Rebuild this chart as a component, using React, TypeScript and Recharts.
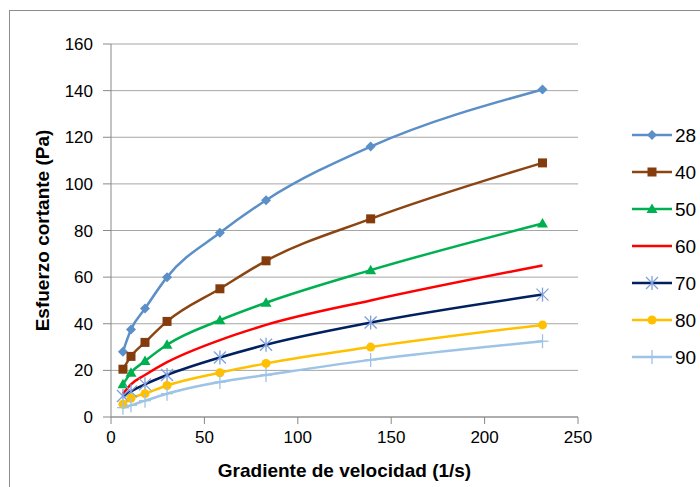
import { LineChart, Line, XAxis, YAxis, CartesianGrid } from "recharts";

// shear rate (1/s)
const gradiente = [6.4, 10.7, 18.2, 30, 58.3, 83, 139, 231];

// shear stress (Pa) per temperature
const s28 = [28, 37.5, 46.5, 60, 79, 93, 116, 140.5];
const s40 = [20.5, 26, 32, 41, 55, 67, 85, 109];
const s50 = [14, 19, 24, 31, 41.5, 49, 63, 83];
const s60 = [10, 14, 18, 23.5, 33, 39.5, 50, 65];
const s70 = [9, 11, 14, 18, 25.5, 31, 40.5, 52.5];
const s80 = [5.5, 8, 10, 13.5, 19, 23, 30, 39.5];
const s90 = [4, 5, 7, 10, 15, 18, 24.5, 32.5];

const xTicks = [0, 50, 100, 150, 200, 250];
const yTicks = [0, 20, 40, 60, 80, 100, 120, 140, 160];

const data = gradiente.map((g, i) => ({
  g,
  t28: s28[i],
  t40: s40[i],
  t50: s50[i],
  t60: s60[i],
  t70: s70[i],
  t80: s80[i],
  t90: s90[i],
}));

const FONT = "'Liberation Sans', Arial, sans-serif";

type Mk = "diamond" | "square" | "triangle" | "none" | "star" | "circle" | "plus";

const series: { key: string; name: string; color: string; marker: Mk; markColor: string }[] = [
  { key: "t28", name: "28", color: "#5B8FC7", marker: "diamond", markColor: "#5B8FC7" },
  { key: "t40", name: "40", color: "#8B4513", marker: "square", markColor: "#843C0C" },
  { key: "t50", name: "50", color: "#00B050", marker: "triangle", markColor: "#00B050" },
  { key: "t60", name: "60", color: "#FF0000", marker: "none", markColor: "#FF0000" },
  { key: "t70", name: "70", color: "#002060", marker: "star", markColor: "#7F9FDB" },
  { key: "t80", name: "80", color: "#FFC000", marker: "circle", markColor: "#FFC000" },
  { key: "t90", name: "90", color: "#9DC3E6", marker: "plus", markColor: "#9DC3E6" },
];

const marker = (kind: Mk, c: string, cx: number, cy: number, key?: string) => {
  switch (kind) {
    case "diamond":
      return <path key={key} d={`M${cx},${cy - 5}L${cx + 5},${cy}L${cx},${cy + 5}L${cx - 5},${cy}Z`} fill={c} />;
    case "square":
      return <rect key={key} x={cx - 4.5} y={cy - 4.5} width={9} height={9} fill={c} />;
    case "triangle":
      return <path key={key} d={`M${cx},${cy - 5.5}L${cx + 5.5},${cy + 4}L${cx - 5.5},${cy + 4}Z`} fill={c} />;
    case "star":
      return (
        <g key={key} stroke={c} strokeWidth={1.3}>
          <line x1={cx - 6} y1={cy - 6} x2={cx + 6} y2={cy + 6} />
          <line x1={cx - 6} y1={cy + 6} x2={cx + 6} y2={cy - 6} />
          <line x1={cx} y1={cy - 7} x2={cx} y2={cy + 7} />
        </g>
      );
    case "circle":
      return <circle key={key} cx={cx} cy={cy} r={4.5} fill={c} />;
    case "plus":
      return (
        <g key={key} stroke={c} strokeWidth={1.3}>
          <line x1={cx - 6} y1={cy} x2={cx + 6} y2={cy} />
          <line x1={cx} y1={cy - 7} x2={cx} y2={cy + 7} />
        </g>
      );
    default:
      return <g key={key} />;
  }
};

const LegendBox = () => (
  <svg width={70} height={260} style={{ position: "absolute", left: 630, top: 125 }}>
    {series.map((s, i) => {
      const y = 10 + i * 37;
      return (
        <g key={s.key}>
          <line x1={2} y1={y} x2={42} y2={y} stroke={s.color} strokeWidth={2.5} />
          {marker(s.marker, s.markColor, 22, y)}
          <text x={45} y={y + 7} fontSize={19} fontFamily={FONT} fill="#000">
            {s.name}
          </text>
        </g>
      );
    })}
  </svg>
);

const App = () => {
  return (
    <div style={{ position: "absolute", left: 0, top: 0, width: 700, height: 487, background: "#fff", overflow: "hidden" }}>
      <div
        style={{ position: "absolute", left: 9, top: 10, width: 720, height: 500, border: "1px solid #8c8c8c" }}
      />
      <LineChart
        width={700}
        height={487}
        data={data}
        margin={{ top: 44, right: 122, bottom: 0, left: 0 }}
        style={{ fontFamily: FONT }}
      >
        <CartesianGrid vertical={false} stroke="#A6A6A6" />
        <XAxis
          dataKey="g"
          type="number"
          domain={[0, 250]}
          ticks={xTicks}
          height={70}
          tickSize={7}
          tickMargin={7}
          stroke="#888"
          tick={{ fill: "#000", fontSize: 17, fontFamily: FONT }}
          label={{
            value: "Gradiente de velocidad (1/s)",
            position: "insideBottom",
            offset: 10,
            fill: "#000",
            fontSize: 19,
            fontWeight: "bold",
            fontFamily: FONT,
          }}
        />
        <YAxis
          type="number"
          domain={[0, 160]}
          ticks={yTicks}
          width={111}
          tickSize={8}
          tickMargin={10}
          stroke="#888"
          tick={{ fill: "#000", fontSize: 17, fontFamily: FONT }}
          label={{
            value: "Esfuerzo cortante (Pa)",
            angle: -90,
            position: "insideLeft",
            offset: 42,
            style: { textAnchor: "middle" },
            fill: "#000",
            fontSize: 19,
            fontWeight: "bold",
            fontFamily: FONT,
          }}
        />
        {series.map((s) => (
          <Line
            key={s.key}
            dataKey={s.key}
            name={s.name}
            type="monotone"
            stroke={s.color}
            strokeWidth={2.5}
            isAnimationActive={false}
            activeDot={false}
            dot={(p: any) => marker(s.marker, s.markColor, p.cx, p.cy, `${s.key}-${p.index}`)}
          />
        ))}
      </LineChart>
      <LegendBox />
    </div>
  );
};

export default App;
